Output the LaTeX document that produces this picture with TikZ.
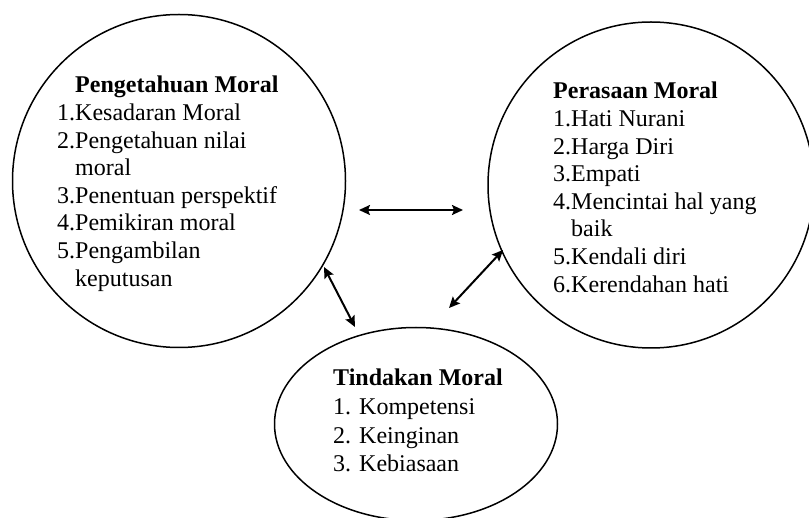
\documentclass[tikz,border=0pt]{standalone}
\usepackage{fontspec}
\setmainfont{Liberation Serif}
\usetikzlibrary{shapes.geometric,arrows.meta}
\tikzset{
  bubble/.style={draw, ellipse, line width=1.5pt, inner sep=0pt},
  block/.style={anchor=base west, inner sep=0pt, font=\fontsize{24pt}{27.6pt}\selectfont},
  link/.style={line width=2pt, {Stealth[length=11pt,width=10pt,inset=2pt]}-{Stealth[length=11pt,width=10pt,inset=2pt]}}
}
\begin{document}
\begin{tikzpicture}[x=1pt,y=-1pt]
\useasboundingbox (0,0) rectangle (809,518);
% shapes
\node[bubble, minimum width=333pt, minimum height=333pt] (know) at (179,181) {};
\node[bubble, minimum width=326pt, minimum height=326pt] (feel) at (651,185) {};
\node[bubble, minimum width=283pt, minimum height=193pt] (act) at (416,424) {};
% texts
\node[block] (knowtxt) at (57,93) {\begin{tabular}[t]{@{}l@{}}
\phantom{1.}\textbf{Pengetahuan Moral}\\
1.Kesadaran Moral\\
2.Pengetahuan nilai\\
\phantom{2.}moral\\
3.Penentuan perspektif\\
4.Pemikiran moral\\
5.Pengambilan\\
\phantom{5.}keputusan
\end{tabular}};
\node[block] (feeltxt) at (553,99) {\begin{tabular}[t]{@{}l@{}}
\textbf{Perasaan Moral}\\
1.Hati Nurani\\
2.Harga Diri\\
3.Empati\\
4.Mencintai hal yang\\
\phantom{4.}baik\\
5.Kendali diri\\
6.Kerendahan hati
\end{tabular}};
\node[block, font=\fontsize{24pt}{28.6pt}\selectfont] (acttxt) at (333,386) {\begin{tabular}[t]{@{}l@{}}
\textbf{Tindakan Moral}\\
1. Kompetensi\\
2. Keinginan\\
3. Kebiasaan
\end{tabular}};
% connectors
\coordinate (h1) at (359,210);
\coordinate (h2) at (463,210);
\coordinate (l1) at (324,267);
\coordinate (l2) at (355,327);
\coordinate (r1) at (503,250);
\coordinate (r2) at (449,308);
\draw[link] (h1) -- (h2);
\draw[link] (l1) -- (l2);
\draw[link] (r1) -- (r2);
\end{tikzpicture}
\end{document}
